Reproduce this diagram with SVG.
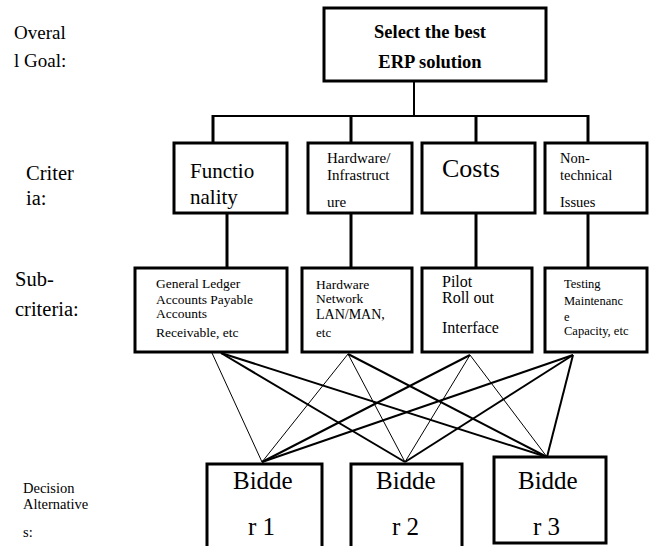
<svg xmlns="http://www.w3.org/2000/svg" width="658" height="546" viewBox="0 0 658 546" font-family="'Liberation Serif', 'DejaVu Serif', serif">
<style>
text{font-family:'Liberation Serif','DejaVu Serif',serif;fill:#000}
.box{fill:#fff;stroke:#000;stroke-width:3}
.thick{stroke:#000;stroke-width:3;fill:none}
.med{stroke:#000;stroke-width:2;fill:none}
.thin{stroke:#000;stroke-width:1;fill:none}
.lbl{font-size:19px}
</style>
<rect width="658" height="546" fill="#fff"/>
<g id="labels">
<text class="lbl" x="14" y="39">Overal</text>
<text class="lbl" x="14" y="67">l Goal:</text>
<text x="26" y="180" font-size="20.5">Criter</text>
<text x="26" y="205" font-size="20.5">ia:</text>
<text x="15" y="286" font-size="20.5">Sub-</text>
<text x="15" y="316" font-size="20.5">criteria:</text>
<text x="23" y="493" font-size="14.5">Decision</text>
<text x="23" y="509" font-size="14.5">Alternative</text>
<text x="23" y="537" font-size="14.5">s:</text>
</g>
<g id="connectors">
<line class="med" x1="414" y1="81" x2="414" y2="116"/>
<line class="med" x1="212" y1="116" x2="588" y2="116"/>
<line class="thick" x1="213" y1="115" x2="213" y2="143"/>
<line class="thick" x1="351" y1="115" x2="351" y2="143"/>
<line class="thick" x1="476" y1="115" x2="476" y2="143"/>
<line class="thick" x1="588" y1="115" x2="588" y2="143"/>
<line class="thick" x1="227" y1="213" x2="227" y2="268"/>
<line class="thick" x1="351" y1="213" x2="351" y2="268"/>
<line class="thick" x1="476" y1="213" x2="476" y2="268"/>
<line class="thick" x1="588" y1="213" x2="588" y2="268"/>
<line class="thin" x1="212" y1="353" x2="262" y2="462"/>
<line class="med" x1="221" y1="353" x2="405" y2="462"/>
<line class="med" x1="221" y1="353" x2="547" y2="457"/>
<line class="thin" x1="348" y1="354" x2="262" y2="462"/>
<line class="thin" x1="348" y1="354" x2="405" y2="462"/>
<line class="med" x1="348" y1="354" x2="547" y2="457"/>
<line class="med" x1="470" y1="355" x2="262" y2="462"/>
<line class="thin" x1="470" y1="355" x2="405" y2="462"/>
<line class="thin" x1="470" y1="355" x2="547" y2="457"/>
<line class="med" x1="573" y1="355" x2="262" y2="462"/>
<line class="med" x1="573" y1="355" x2="405" y2="462"/>
<line class="med" x1="573" y1="355" x2="547" y2="457"/>
</g>
<g id="goal">
<rect class="box" x="324" y="8" width="222" height="73"/>
<text x="430" y="38" font-size="18.5" font-weight="bold" text-anchor="middle">Select the best</text>
<text x="430" y="68" font-size="18.5" font-weight="bold" text-anchor="middle">ERP solution</text>
</g>
<g id="crit-functionality">
<rect class="box" x="174" y="143" width="113" height="70"/>
<text x="190" y="178" font-size="21">Functio</text>
<text x="190" y="204" font-size="21">nality</text>
</g>
<g id="crit-hardware">
<rect class="box" x="308" y="143" width="104" height="70"/>
<text x="327" y="163" font-size="15">Hardware/</text>
<text x="327" y="180" font-size="15">Infrastruct</text>
<text x="327" y="207" font-size="15">ure</text>
</g>
<g id="crit-costs">
<rect class="box" x="422" y="143" width="113" height="70"/>
<text x="442" y="177" font-size="26">Costs</text>
</g>
<g id="crit-nontech">
<rect class="box" x="545" y="143" width="102" height="70"/>
<text x="560" y="163" font-size="14.5">Non-</text>
<text x="560" y="180" font-size="14.5">technical</text>
<text x="560" y="207" font-size="14.5">Issues</text>
</g>
<g id="sub-functionality">
<rect class="box" x="135" y="268" width="152" height="84"/>
<text x="156" y="288" font-size="13.5">General Ledger</text>
<text x="156" y="304" font-size="13.5">Accounts Payable</text>
<text x="156" y="318" font-size="13.5">Accounts</text>
<text x="156" y="337" font-size="13.5">Receivable, etc</text>
</g>
<g id="sub-hardware">
<rect class="box" x="302" y="268" width="110" height="84"/>
<text x="316" y="289" font-size="13.5">Hardware</text>
<text x="316" y="303" font-size="13.5">Network</text>
<text x="316" y="319" font-size="14">LAN/MAN,</text>
<text x="316" y="337" font-size="13">etc</text>
</g>
<g id="sub-costs">
<rect class="box" x="422" y="268" width="110" height="84"/>
<text x="442" y="287" font-size="16">Pilot</text>
<text x="442" y="303" font-size="16">Roll out</text>
<text x="442" y="333" font-size="16">Interface</text>
</g>
<g id="sub-nontech">
<rect class="box" x="545" y="268" width="102" height="84"/>
<text x="564" y="288" font-size="12.5">Testing</text>
<text x="564" y="305" font-size="12.5">Maintenanc</text>
<text x="564" y="321" font-size="12.5">e</text>
<text x="564" y="335" font-size="12.5">Capacity, etc</text>
</g>
<g id="bidder1">
<path class="box" d="M207,550 V464 H322 V550"/>
<text x="233" y="489" font-size="25">Bidde</text>
<text x="248" y="535" font-size="25">r 1</text>
</g>
<g id="bidder2">
<path class="box" d="M351,550 V464 H462 V550"/>
<text x="376" y="489" font-size="25">Bidde</text>
<text x="392" y="535" font-size="25">r 2</text>
</g>
<g id="bidder3">
<rect class="box" x="494" y="457" width="112" height="86"/>
<text x="518" y="489" font-size="25">Bidde</text>
<text x="533" y="535" font-size="25">r 3</text>
</g>
</svg>
